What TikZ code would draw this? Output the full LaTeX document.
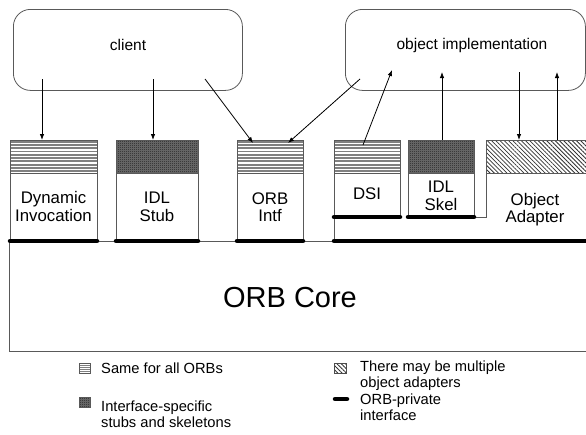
\documentclass[tikz,border=0pt]{standalone}
\usepackage{fontspec}
\setmainfont{Liberation Sans}
\usetikzlibrary{patterns,patterns.meta,arrows.meta}

\tikzdeclarepattern{
  name=finecheck,
  type=uncolored,
  bottom left={(0pt,0pt)},
  top right={(2pt,2pt)},
  tile size={(2pt,2pt)},
  code={\fill (0pt,0pt) rectangle (1pt,1pt); \fill (1pt,1pt) rectangle (2pt,2pt);}
}

\newcommand\mystripes[4]{%
  \foreach \k in {0,...,9} {\draw[stripecol, line width=1.9pt] (#1,{#3+1.6+\k*3.3}) -- (#2,{#3+1.6+\k*3.3});}}
\newcommand\mycheck[4]{%
  \fill[black!55] (#1,#3) rectangle (#2,#4);
  \fill[checkfill] (#1,#3) rectangle (#2,#4);}

\begin{document}
\begin{tikzpicture}[x=1pt,y=-1pt,
  stripecol/.style={draw=black!50},
  outl/.style={draw=black!65, line width=0.8pt},
  blockbox/.style={outl, inner sep=0pt, anchor=north west},
  cloud/.style={outl, rounded corners=17pt, inner sep=0pt, anchor=north west},
  arr/.style={-{Latex[length=6pt,width=4.5pt]}, line width=0.8pt, black},
  priv/.style={line width=4.5pt, line cap=round, black},
  thin/.style={draw=black!65, line width=0.8pt},
  blocktxt/.style={font=\fontsize{16.8}{17.5}\selectfont, align=center, inner sep=0pt},
  cloudtxt/.style={font=\fontsize{15.5}{18}\selectfont, inner sep=0pt},
  legtxt/.style={font=\fontsize{14.7}{15.8}\selectfont, align=left, inner sep=0pt, anchor=west},
  checkfill/.style={pattern=finecheck, pattern color=black},
  hatchfill/.style={pattern={Lines[angle=-45,distance=3pt,line width=0.8pt]}, pattern color=black!80}
]
\useasboundingbox (0,0) rectangle (586,434);

% ---------- top boxes ----------
\node[cloud, minimum width=229pt, minimum height=81pt] (client) at (13,9) {};
\node[cloudtxt] (clienttxt) at (128,45) {client};
\node[cloud, minimum width=240pt, minimum height=81pt] (impl) at (345,9) {};
\node[cloudtxt] (impltxt) at (472,45) {object implementation};

% ---------- ORB core ----------
\draw[thin] (590,241) -- (9,241) -- (9,351) -- (590,351);
\node[font=\fontsize{29}{32}\selectfont, inner sep=0pt] (core) at (290,298) {ORB Core};

% ---------- bands ----------
\mystripes{10}{97}{140}{173}
\mystripes{237}{303}{140}{173}
\mystripes{334}{400}{140}{173}
\mycheck{116}{198}{140}{173}
\mycheck{408}{474}{140}{173}
\fill[hatchfill] (486,140) rectangle (590,173);

% ---------- blocks ----------
\node[blockbox, minimum width=87pt, minimum height=101pt] (di) at (10,140) {};
\node[blockbox, minimum width=82pt, minimum height=101pt] (stub) at (116,140) {};
\node[blockbox, minimum width=66pt, minimum height=101pt] (intf) at (237,140) {};
\node[blockbox, minimum width=66pt, minimum height=77pt] (dsi) at (334,140) {};
\node[blockbox, minimum width=66pt, minimum height=77pt] (skel) at (408,140) {};
\draw[thin] (590,140) -- (486,140) -- (486,217) -- (474,217);
\draw[thin] (486,173) -- (590,173);
\draw[thin] (334,217) -- (334,241);
\foreach \a/\b in {10/97,116/198,237/303,334/400,408/474}
  \draw[thin] (\a,173) -- (\b,173);

\node[blocktxt] (ditxt) at (53.5,206.5) {Dynamic\\Invocation};
\node[blocktxt] (stubtxt) at (157,207) {IDL\\Stub};
\node[blocktxt] (intftxt) at (270,207) {ORB\\Intf};
\node[blocktxt] (dsitxt) at (367,194) {DSI};
\node[blocktxt] (skeltxt) at (441,196) {IDL\\Skel};
\node[blocktxt] (oatxt) at (535,209.5) {Object\\Adapter};

% ---------- ORB-private interfaces ----------
\draw[priv] (10,241) -- (97,241);
\draw[priv] (116,241) -- (198,241);
\draw[priv] (237,241) -- (303,241);
\draw[priv] (334,241) -- (592,241);
\draw[priv] (334,217) -- (400,217);
\draw[priv] (408,217) -- (474,217);

% ---------- arrows ----------
\coordinate (a1s) at (42,79);   \coordinate (a1e) at (42,140);
\coordinate (a2s) at (153,79);  \coordinate (a2e) at (153,140);
\coordinate (a3s) at (205,79);  \coordinate (a3e) at (253,143);
\coordinate (a4s) at (360,79);  \coordinate (a4e) at (288,143);
\coordinate (a5s) at (363,145); \coordinate (a5e) at (392,70);
\coordinate (a6s) at (442,140); \coordinate (a6e) at (442,72);
\coordinate (a7s) at (519,72);  \coordinate (a7e) at (519,140);
\coordinate (a8s) at (557,140); \coordinate (a8e) at (557,72);
\foreach \i in {1,...,8} \draw[arr] (a\i s) -- (a\i e);

% ---------- legend ----------
\foreach \k in {0,...,4} \draw[stripecol, line width=1.1pt] (79,{363.9+\k*1.85}) -- (90,{363.9+\k*1.85});
\node[outl, inner sep=0pt, minimum width=11pt, minimum height=10pt, anchor=north west] (lg1) at (79,363) {};
\mycheck{79}{90}{397}{407}
\node[outl, inner sep=0pt, minimum width=11pt, minimum height=10pt, anchor=north west] (lg2) at (79,397) {};
\fill[hatchfill] (334,363) rectangle (346,373);
\node[draw=black!70, line width=0.6pt, inner sep=0pt, minimum width=12pt, minimum height=10pt, anchor=north west] (lg3) at (334,363) {};
\draw[priv] (335,399) -- (347,399);

\node[legtxt] (t1) at (101,368) {Same for all ORBs};
\node[legtxt] (t2) at (101,414) {Interface-specific\\stubs and skeletons};
\node[legtxt] (t3) at (360,376) {There may be multiple\\object adapters};
\node[legtxt] (t4) at (360,407) {ORB-private\\interface};
\end{tikzpicture}
\end{document}
